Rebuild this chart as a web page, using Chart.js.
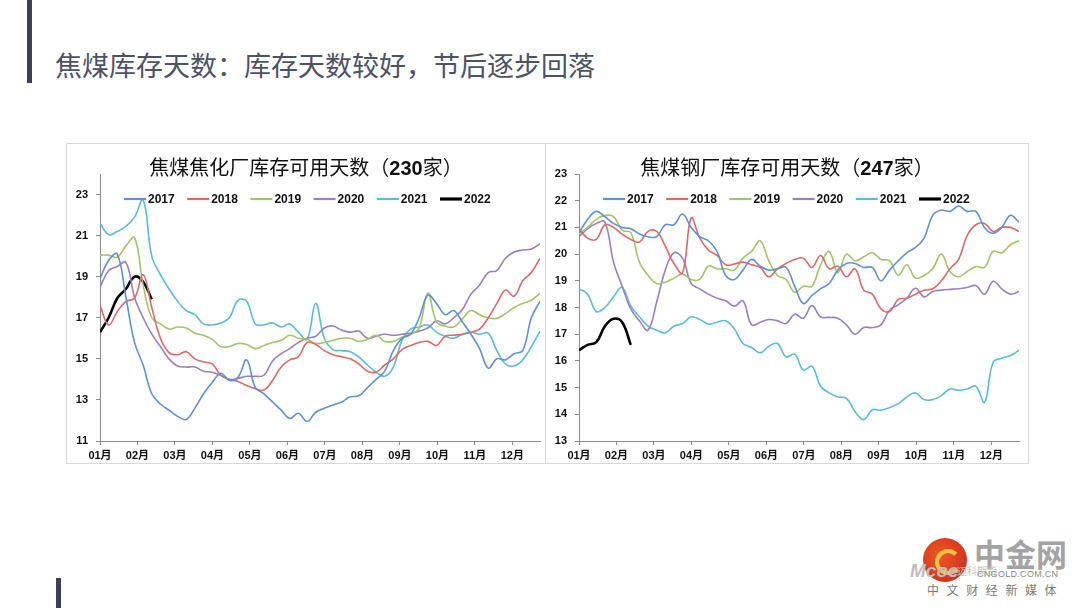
<!DOCTYPE html>
<html lang="zh-CN">
<head>
<meta charset="utf-8">
<title>焦煤库存天数</title>
<script src="https://cdn.jsdelivr.net/npm/chart.js@4.4.1/dist/chart.umd.min.js"></script>
<style>
  html, body { margin: 0; padding: 0; background: #fff; }
  body { width: 1080px; height: 608px; position: relative; overflow: hidden;
         font-family: "Noto Sans CJK SC", "Noto Sans", sans-serif; }
  .bar { position: absolute; background: #3c4057; }
  #pageTitle { position: absolute; left: 55px; top: 51px; font-size: 27px; line-height: 27px;
               color: #4d5266; white-space: nowrap; }
  .box { position: absolute; top: 143px; height: 321px; border: 1px solid #d9d9d9; box-sizing: border-box; }
  .box canvas { position: absolute; left: 0; top: 0; }
  .chartTitle { position: absolute; left: 0; right: 0; top: 13px; text-align: center; font-size: 20px;
                line-height: 20px; color: #111; white-space: nowrap; }
  .chartTitle b { font-family: "Liberation Sans", sans-serif; }
  .logo { position: absolute; white-space: nowrap; }
</style>
</head>
<body>
<div class="bar" style="left:27px;top:0;width:5px;height:83px"></div>
<div class="bar" style="left:56px;top:578px;width:5px;height:30px"></div>
<div id="pageTitle">焦煤库存天数：库存天数较好，节后逐步回落</div>

<div class="box" style="left:66px;width:480px">
  <canvas id="cokeChart" width="478" height="319"></canvas>
  <div class="chartTitle">焦煤焦化厂库存可用天数（<b>230</b>家）</div>
</div>
<div class="box" style="left:545px;width:484px">
  <canvas id="steelChart" width="482" height="319"></canvas>
  <div class="chartTitle">焦煤钢厂库存可用天数（<b>247</b>家）</div>
</div>

<!-- watermark -->
<div class="logo" style="left:923px;top:538px;width:44px;height:44px;border-radius:50%;background:radial-gradient(circle at 40% 40%,#ef5a22,#c9221b)"></div>
<div class="logo" style="left:935px;top:549px;width:18px;height:18px;border-radius:50%;border:4px solid #f6c04a;border-right-color:transparent"></div>
<div class="logo" style="left:974px;top:536px;font-size:31px;line-height:34px;font-weight:bold;color:#a3a3a3">中金网</div>
<div class="logo" style="left:910px;top:560px;font:italic bold 19px 'Liberation Sans';color:#bdbdbd">Mcoe</div>
<div class="logo" style="left:957px;top:563px;font-size:10px;color:#c4c4c4">迈科期货</div>
<div class="logo" style="left:977px;top:569px;font:9px 'Liberation Sans';color:#8a8a8a;letter-spacing:0.3px">CNGOLD.COM.CN</div>
<div class="logo" style="left:927px;top:583px;font-size:12px;line-height:14px;color:#7a7a7a;letter-spacing:7.6px">中文财经新媒体</div>

<script>
// weekly series, week 0 = first week of January
const years = ['2017', '2018', '2019', '2020', '2021', '2022'];
const monthLabels = ['01月', '02月', '03月', '04月', '05月', '06月', '07月', '08月', '09月', '10月', '11月', '12月'];
const cokeTicks = [11, 13, 15, 17, 19, 21, 23];
const steelTicks = [13, 14, 15, 16, 17, 18, 19, 20, 21, 22, 23];

// 焦化厂库存可用天数
const coke2017 = [18.9, 19.8, 20.1, 18.0, 15.8, 14.7, 13.3, 12.8, 12.5, 12.2, 12.05, 12.6, 13.3, 13.85, 14.3, 13.95, 14.1, 14.95, 13.6, 13.3, 12.9, 12.5, 12.1, 12.35, 11.95, 12.4, 12.6, 12.75, 12.9, 13.15, 13.2, 13.6, 14.0, 14.4, 15.4, 16.0, 16.2, 17.0, 18.1, 17.7, 17.15, 17.35, 16.8, 16.2, 15.5, 14.55, 15.0, 14.95, 15.25, 15.4, 17.0, 17.8];
const coke2018 = [17.6, 16.65, 17.3, 17.8, 17.95, 19.1, 17.5, 16.0, 15.3, 15.2, 15.35, 15.0, 14.85, 14.75, 14.2, 14.0, 13.9, 13.7, 13.55, 13.48, 13.95, 14.6, 14.95, 15.1, 15.8, 15.7, 15.4, 15.2, 15.1, 15.0, 14.75, 14.4, 14.35, 14.7, 15.0, 15.45, 15.65, 15.8, 15.85, 15.65, 16.1, 16.15, 16.2, 16.3, 16.45, 17.0, 17.7, 18.35, 18.05, 18.8, 19.2, 19.9];
const coke2019 = [20.05, 20.05, 19.95, 20.5, 20.9, 18.6, 17.0, 16.7, 16.45, 16.55, 16.5, 16.25, 16.15, 15.95, 15.6, 15.6, 15.75, 15.7, 15.5, 15.65, 15.8, 15.9, 16.15, 16.0, 15.95, 15.75, 15.8, 15.9, 16.0, 16.0, 15.85, 15.95, 16.15, 15.85, 15.85, 16.05, 16.2, 16.5, 18.2, 16.8, 16.6, 16.55, 16.95, 17.35, 17.15, 17.0, 16.97, 17.2, 17.5, 17.7, 17.85, 18.2];
const coke2020 = [18.5, 19.3, 19.5, 19.7, 18.0, 17.0, 16.2, 15.6, 15.0, 14.65, 14.6, 14.6, 14.4, 14.35, 14.2, 14.0, 14.05, 14.15, 14.15, 14.2, 14.9, 15.25, 15.5, 15.8, 16.0, 16.1, 16.5, 16.6, 16.4, 16.3, 16.35, 16.0, 16.1, 16.2, 16.15, 16.2, 16.25, 16.35, 16.5, 16.85, 16.7, 17.0, 17.4, 18.15, 18.6, 19.2, 19.3, 19.9, 20.2, 20.3, 20.35, 20.6];
const coke2021 = [21.6, 21.05, 21.2, 21.45, 21.9, 22.75, 20.0, 19.1, 18.4, 17.8, 17.35, 17.15, 16.7, 16.65, 16.75, 17.0, 17.85, 17.8, 16.7, 16.65, 16.75, 16.55, 16.7, 16.3, 15.95, 17.7, 16.0, 15.45, 15.4, 15.35, 15.1, 14.7, 14.35, 14.15, 14.6, 15.9, 16.45, 16.55, 16.65, 16.3, 16.1, 16.0, 16.2, 16.3, 16.2, 16.25, 15.4, 14.75, 14.65, 14.95, 15.6, 16.35];
const coke2022 = [16.3, 17.0, 17.95, 18.4, 19.0, 18.75, 17.9];

// 钢厂库存可用天数
const steel2017 = [20.8, 21.3, 21.6, 21.4, 21.15, 21.0, 20.95, 20.75, 20.65, 20.65, 21.1, 21.1, 21.5, 21.0, 20.65, 20.5, 20.1, 19.2, 19.05, 19.4, 19.8, 19.55, 19.4, 19.45, 19.5, 18.8, 18.15, 18.45, 18.7, 18.9, 19.4, 19.65, 19.65, 19.5, 19.5, 19.0, 19.4, 19.75, 20.05, 20.25, 20.6, 21.45, 21.65, 21.6, 21.8, 21.6, 21.6, 21.0, 20.78, 21.0, 21.45, 21.2];
const steel2018 = [20.95, 20.6, 20.55, 21.1, 21.0, 20.75, 20.55, 20.45, 20.85, 20.85, 20.3, 19.65, 19.3, 21.35, 20.6, 20.15, 19.95, 19.6, 19.63, 19.7, 19.6, 19.5, 19.15, 19.45, 19.65, 19.8, 19.85, 19.5, 19.95, 19.45, 19.55, 19.15, 19.45, 18.65, 18.5, 17.95, 17.85, 18.3, 18.35, 18.5, 18.65, 18.7, 19.0, 19.45, 19.8, 20.7, 21.1, 21.15, 20.85, 21.0, 21.0, 20.85];
const steel2019 = [20.75, 21.0, 21.3, 21.45, 21.4, 20.9, 20.8, 19.7, 19.2, 18.9, 18.95, 19.1, 19.25, 19.05, 19.05, 19.55, 19.45, 19.45, 19.4, 19.85, 20.1, 20.5, 19.75, 19.2, 19.05, 18.57, 18.8, 18.8, 19.6, 20.1, 19.3, 20.0, 19.75, 19.9, 20.05, 19.8, 19.75, 19.2, 19.6, 19.1, 19.2, 19.45, 20.0, 19.35, 19.15, 19.35, 19.53, 19.5, 20.1, 20.05, 20.35, 20.5];
const steel2020 = [20.65, 20.95, 21.15, 21.2, 19.7, 18.8, 17.95, 17.5, 17.15, 18.2, 19.4, 20.05, 19.85, 18.9, 18.7, 18.5, 18.35, 18.25, 18.05, 18.25, 17.35, 17.45, 17.55, 17.5, 17.4, 17.75, 17.6, 18.07, 17.65, 17.63, 17.6, 17.35, 17.0, 17.25, 17.25, 17.35, 17.9, 18.1, 18.35, 18.72, 18.4, 18.6, 18.65, 18.68, 18.7, 18.75, 18.82, 18.5, 18.98, 18.7, 18.5, 18.6];
const steel2021 = [18.7, 18.5, 17.85, 18.0, 18.4, 18.75, 18.05, 17.65, 17.3, 17.15, 17.05, 17.3, 17.4, 17.65, 17.55, 17.38, 17.45, 17.5, 17.2, 16.65, 16.5, 16.3, 16.55, 16.65, 16.15, 16.25, 15.65, 15.8, 15.05, 14.8, 14.65, 14.6, 14.1, 13.8, 14.17, 14.15, 14.25, 14.4, 14.65, 14.8, 14.55, 14.55, 14.7, 14.95, 14.9, 14.95, 15.05, 14.45, 15.95, 16.1, 16.2, 16.4];
const steel2022 = [16.4, 16.6, 16.7, 17.3, 17.58, 17.45, 16.6];

const lineColors = ['#5f92d3', '#db6b68', '#a3c46a', '#9a80c0', '#5cbcd8', '#000000'];
const FONT = '"Liberation Sans", "Noto Sans CJK SC", sans-serif';
const WEEKS_PER_MONTH = 365 / 7 / 12;
const AXIS_COLOR = '#8c8c8c';

Chart.defaults.font.family = FONT;
Chart.defaults.color = '#111';

// legend drawn inside the plot area, like the Excel original
const inlineLegend = {
  id: 'inlineLegend',
  afterDatasetsDraw(chart) {
    const { ctx, chartArea } = chart;
    const y = chartArea.top + 25;
    let x = chartArea.left + 24;
    ctx.save();
    ctx.font = 'bold 12px ' + FONT;
    ctx.textBaseline = 'middle';
    chart.data.datasets.forEach(ds => {
      ctx.strokeStyle = ds.borderColor;
      ctx.lineWidth = ds.borderWidth + 0.6;
      ctx.beginPath();
      ctx.moveTo(x, y);
      ctx.lineTo(x + 22, y);
      ctx.stroke();
      ctx.fillStyle = '#111';
      ctx.fillText(ds.label, x + 24, y + 1);
      x += 24 + ctx.measureText(ds.label).width + 12.5;
    });
    ctx.restore();
  }
};

function makeChart(canvasId, series, yMin, yMax, yTicks, padRight) {
  const canvas = document.getElementById(canvasId);
  return new Chart(canvas.getContext('2d'), {
    type: 'line',
    data: {
      datasets: series.map((values, i) => ({
        label: years[i],
        data: values.map((v, w) => ({ x: w, y: v })),
        borderColor: lineColors[i],
        backgroundColor: lineColors[i],
        borderWidth: i === 5 ? 2.6 : 1.6,
        pointRadius: 0,
        tension: 0.4,
        fill: false
      }))
    },
    options: {
      responsive: false,
      animation: false,
      layout: { padding: { top: 30, right: padRight, left: 0, bottom: 0 } },
      plugins: {
        legend: { display: false },
        tooltip: { enabled: false }
      },
      scales: {
        x: {
          type: 'linear',
          min: 0,
          max: 51,
          afterBuildTicks: s => { s.ticks = monthLabels.map((_, m) => ({ value: m * WEEKS_PER_MONTH })); },
          afterFit: s => { s.height = 22; },
          ticks: {
            callback: (v, i) => monthLabels[i],
            autoSkip: false,
            maxRotation: 0,
            padding: 4,
            color: '#111',
            font: { size: 11, weight: 'bold' }
          },
          grid: { drawOnChartArea: false, tickLength: 4, color: AXIS_COLOR },
          border: { color: AXIS_COLOR }
        },
        y: {
          min: yMin,
          max: yMax,
          afterBuildTicks: s => { s.ticks = yTicks.map(v => ({ value: v })); },
          afterFit: s => { s.width = 33; },
          ticks: { padding: 8, color: '#111', font: { size: 11, weight: 'bold' } },
          grid: { drawOnChartArea: false, tickLength: 4, color: AXIS_COLOR },
          border: { color: AXIS_COLOR }
        }
      }
    },
    plugins: [inlineLegend]
  });
}

window.onload = () => {
  makeChart('cokeChart', [coke2017, coke2018, coke2019, coke2020, coke2021, coke2022], 11, 24, cokeTicks, 5);
  makeChart('steelChart', [steel2017, steel2018, steel2019, steel2020, steel2021, steel2022], 13, 23, steelTicks, 9);
};
</script>
</body>
</html>
